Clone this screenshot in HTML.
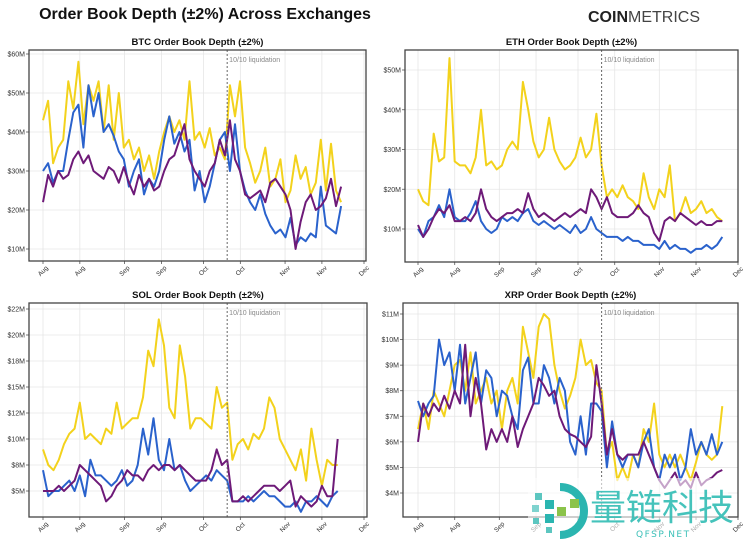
<!DOCTYPE html>
<html><head><meta charset="utf-8">
<style>
html,body{margin:0;padding:0;background:#fff;}
body{width:750px;height:541px;overflow:hidden;position:relative;font-family:"Liberation Sans",sans-serif;}
</style></head>
<body>
<svg id="chart" width="750" height="541" viewBox="0 0 750 541" xmlns="http://www.w3.org/2000/svg">
  <text x="205" y="19" text-anchor="middle" font-family="Liberation Sans, sans-serif" font-weight="bold" font-size="16" fill="#111">Order Book Depth (±2%) Across Exchanges</text>
  <text x="588" y="22" font-family="Liberation Sans, sans-serif" font-size="16" fill="#222"><tspan font-weight="bold">COIN</tspan><tspan font-weight="normal" fill="#444">METRICS</tspan></text>
  <g id="panels"></g>
  <g>
    <rect x="528" y="478" width="200" height="63" fill="#fff" opacity="0.6"></rect>
    <g>
      <path d="M560 487 A24 24 0 1 1 560 535" fill="none" stroke="#2bb5b0" stroke-width="8"></path>
      <rect x="535" y="493" width="7" height="7" fill="#5cc6c0"></rect>
      <rect x="545" y="500" width="9" height="9" fill="#2bb5b0"></rect>
      <rect x="532" y="505" width="7" height="7" fill="#7fd3cf"></rect>
      <rect x="557" y="507" width="9" height="9" fill="#8bc34a"></rect>
      <rect x="545" y="514" width="9" height="9" fill="#2bb5b0"></rect>
      <rect x="533" y="518" width="6" height="6" fill="#5cc6c0"></rect>
      <rect x="570" y="499" width="9" height="9" fill="#8bc34a"></rect>
      <rect x="546" y="527" width="6" height="6" fill="#5cc6c0"></rect>
    </g>
    <text x="590" y="520" font-family="Noto Sans CJK SC, WenQuanYi Zen Hei, sans-serif" font-size="36" fill="#3cc0b8" opacity="0.95">量链科技</text>
    <text x="636" y="537" font-family="DejaVu Sans, sans-serif" font-size="9" letter-spacing="1.5" fill="#3cc0b8">QFSP.NET</text>
  </g>
</svg>
<script>
// x axis: day offsets from Aug 1
const xTickDays = [0, 14, 31, 45, 61, 75, 92, 106, 122];
const xTickLabels = ["Aug","Aug","Sep","Sep","Oct","Oct","Nov","Nov","Dec"];
const eventDay = 70;

// BTC ($M)
const btcYellow = [43,48,32,36,38,53,46,58,42,52,48,53,40,52,38,50,36,38,33,36,30,34,28,35,40,44,40,43,38,53,38,40,36,41,34,36,33,52,44,53,36,32,27,30,36,26,28,33,22,25,34,28,31,24,27,38,25,37,25,22];
const btcBlue = [30,32,27,30,30,38,45,47,36,52,44,50,40,42,39,35,33,26,30,33,24,28,26,30,38,44,37,40,35,38,25,30,22,26,32,38,40,30,42,30,25,22,20,24,19,16,14,15,13,18,11,13,12,14,13,26,16,15,14,21];
const btcPurple = [22,29,26,30,28,29,33,35,32,34,30,29,28,31,30,27,31,27,24,29,26,28,25,26,30,33,34,38,42,33,30,28,26,30,32,38,34,43,33,30,24,23,24,25,22,27,28,26,24,20,10,17,22,24,20,21,23,28,21,26];
const btcTicks = [10,20,30,40,50,60];
const btcTickLabels = ["$10M","$20M","$30M","$40M","$50M","$60M"];

// ETH ($M)
const ethYellow = [20,17,16,34,27,28,53,27,26,26,24,28,40,26,27,25,26,30,32,30,47,40,32,28,30,38,30,27,25,26,28,33,28,30,39,26,18,20,18,21,18,17,15,24,18,15,20,18,26,12,14,18,14,15,17,14,15,13,12];
const ethBlue = [10,8,12,13,16,13,20,13,12,12,14,17,12,10,9,10,13,12,13,12,14,15,12,11,12,11,10,11,10,9,11,9,10,13,10,9,8,8,8,7,8,7,7,6,6,6,5,7,5,6,5,5,4,5,5,6,5,6,8];
const ethPurple = [11,8,10,13,15,14,16,12,12,13,12,14,20,15,13,12,13,14,14,15,14,19,15,13,14,13,12,13,14,13,14,15,14,20,18,15,18,14,13,13,13,14,16,14,13,9,7,12,13,12,14,13,12,11,12,11,11,12,12];
const ethTicks = [10,20,30,40,50];
const ethTickLabels = ["$10M","$20M","$30M","$40M","$50M"];

// SOL ($M)
const solYellow = [9,7.5,7,8,9.5,10.5,11,13.5,10,10.5,10,9.5,11,10.5,13.5,11,11.5,12,12,14,18.5,17,21.5,19,13,12,19,16,11,12,12,11.5,11,15,13,13.5,8,9.5,10,9,10.5,10,11,14,13,10,9,8,7,9,6,11,8,5.5,8,7.5,7.5];
const solBlue = [7,4.5,5,5,5.5,6,5,6.5,4.5,8,6.5,6.5,6,5.5,6,7,5.5,6,7.5,11,8.5,12,8,7,10,7,7.5,6,5,5.5,6,6.5,6,7,6.5,6,4,4,4,4.5,4,4.5,5,4.5,4.5,4,3.5,3.5,4,3,4,4,4.5,4,3.5,4.5,5];
const solPurple = [5,5,5,5.5,5,5.5,6,7.5,7,6.5,6,5.5,4,4.5,5.5,6,7,6.5,6.5,6,7,7.5,7,7.5,7.5,7,7.5,7,6.5,6,6,6,7,9,7.5,8,4,4,4.5,4,4.5,5,5.5,5.5,5.5,5,5.5,6,3.5,4.5,4,3.5,4,5.5,4.5,4.5,10];
const solTicks = [5,7.5,10,12.5,15,17.5,20,22.5];
const solTickLabels = ["$5M","$8M","$10M","$12M","$15M","$18M","$20M","$22M"];

// XRP ($M)
const xrpYellow = [6.5,7.5,6.5,8,7.5,7,8,9,9.2,8,9.5,7.5,8,8.5,7.5,8,6.5,8,8.5,7.5,10.5,9.5,8.5,10.5,11,10.8,9,8,7.3,7.8,8.5,10,9,9.2,8.3,8,5.5,6,4.5,5,4.5,5.5,5,6.5,6,7.5,5.5,5,5.5,5,5.5,5,4.5,5.2,6,5.5,5.3,5.5,7.4];
const xrpBlue = [7.6,7,7.5,7.8,10,9,9.5,8,9.8,7.5,8.5,9.5,7.5,8.8,8.5,7,8,7.8,7,6.5,8.8,9.3,7.5,7.5,9,8.5,7.5,8.5,8,6,5.5,7,5.5,7.5,7.5,7.2,5,6.8,5.5,5,5.5,5.5,5,6,6.5,5,4.5,5.5,5,5.5,4.5,5,6.5,5.5,6,5.5,6.3,5.5,6];
const xrpPurple = [6,7.5,7,7.5,7.2,7.8,7.3,8,7.5,9.8,7,8.5,7.5,5.7,6.5,6,6.5,6,7,5.8,6.5,7,7.5,8.5,8.2,7.8,8,7,6.5,6.3,6.2,6,5.8,6.2,9,7.5,5.5,6.5,5.5,5.3,5.5,5.5,5.5,6,5.5,5,4.5,4.2,4.5,4.8,4.3,4.5,4.2,4.8,4.3,4.5,4.6,4.8,4.9];
const xrpTicks = [4,5,6,7,8,9,10,11];
const xrpTickLabels = ["$4M","$5M","$6M","$7M","$8M","$9M","$10M","$11M"];

const NS = "http://www.w3.org/2000/svg";
const COLORS = {yellow:"#f3d21c", blue:"#2a62cc", purple:"#6e1a78"};

const panels = [
  {id:"btc", title:"BTC Order Book Depth (±2%)", box:[29,50,366,261], xr:[43,364], yd:[10,60], yr:[249,54], step:1.92, ticks:btcTicks, labels:btcTickLabels, series:[["yellow",btcYellow],["blue",btcBlue],["purple",btcPurple]]},
  {id:"eth", title:"ETH Order Book Depth (±2%)", box:[405,50,738,262], xr:[418,738], yd:[10,50], yr:[229,70], step:2, ticks:ethTicks, labels:ethTickLabels, series:[["yellow",ethYellow],["blue",ethBlue],["purple",ethPurple]]},
  {id:"sol", title:"SOL Order Book Depth (±2%)", box:[29,303,367,517], xr:[43,364], yd:[5,22.5], yr:[491,309], step:2, ticks:solTicks, labels:solTickLabels, series:[["yellow",solYellow],["blue",solBlue],["purple",solPurple]]},
  {id:"xrp", title:"XRP Order Book Depth (±2%)", box:[403,303,738,517], xr:[418,738], yd:[4,11], yr:[493,314], step:2, ticks:xrpTicks, labels:xrpTickLabels, series:[["yellow",xrpYellow],["blue",xrpBlue],["purple",xrpPurple]]}
];

function mk(tag, attrs){ const e=document.createElementNS(NS,tag); for(const k in attrs) e.setAttribute(k,attrs[k]); return e; }

const root = document.getElementById("panels");
panels.forEach(p=>{
  const [L,T,R,B] = p.box;
  const xs = d => p.xr[0] + (d/122)*(p.xr[1]-p.xr[0]);
  const ys = v => p.yr[0] + (v-p.yd[0])/(p.yd[1]-p.yd[0])*(p.yr[1]-p.yr[0]);
  const g = mk("g",{});
  
  
  root.appendChild(g);

  const title = mk("text",{x:(L+R)/2, y:T-5, "text-anchor":"middle", "font-size":"9.5", "font-weight":"bold", fill:"#111"});
  
  
  title.textContent = p.title;
  g.appendChild(title);

  p.ticks.forEach((t,i)=>{
    const y = ys(t);
    const gl = mk("line",{x1:L, x2:R, y1:y, y2:y, stroke:"#e6e6e6", "stroke-width":"0.8"});
    
    
    g.appendChild(gl);
    const tk = mk("line",{x1:L-3, x2:L, y1:y, y2:y, stroke:"#555", "stroke-width":"0.8"});
    
    
    g.appendChild(tk);
    const lb = mk("text",{x:L-4, y:y+2.5, "text-anchor":"end", "font-size":"7", fill:"#333"});
    
    
    lb.textContent = p.labels[i];
    g.appendChild(lb);
  });
  xTickDays.forEach((d,i)=>{
    const x = xs(d);
    const gl = mk("line",{x1:x, x2:x, y1:T, y2:B, stroke:"#e6e6e6", "stroke-width":"0.8"});
    
    
    g.appendChild(gl);
    const tk = mk("line",{x1:x, x2:x, y1:B, y2:B+3, stroke:"#555", "stroke-width":"0.8"});
    
    
    g.appendChild(tk);
    const lb = mk("text",{x:x, y:B+12, "text-anchor":"middle", "font-size":"6.5", fill:"#333", transform:`rotate(-45 ${x} ${B+10})`});
    
    
    lb.textContent = xTickLabels[i];
    g.appendChild(lb);
  });

  p.series.forEach(([c,arr])=>{
    const pts = arr.map((v,i)=> xs(i*p.step).toFixed(1)+","+ys(v).toFixed(1)).join(" ");
    const pl = mk("polyline",{points:pts, fill:"none", stroke:COLORS[c], "stroke-width":"2", "stroke-linejoin":"round"});
    
    
    g.appendChild(pl);
  });

  const ex = xs(eventDay);
  const ev = mk("line",{x1:ex, x2:ex, y1:T, y2:B, stroke:"#666", "stroke-width":"1", "stroke-dasharray":"2,2"});
  
  
  g.appendChild(ev);
  const et = mk("text",{x:ex+2, y:T+12, "font-size":"7", fill:"#888"});
  
  
  et.textContent = "10/10 liquidation";
  g.appendChild(et);

  const fr = mk("rect",{x:L, y:T, width:R-L, height:B-T, fill:"none", stroke:"#444", "stroke-width":"1.3"});
  
  
  g.appendChild(fr);
});
</script>
</body></html>
